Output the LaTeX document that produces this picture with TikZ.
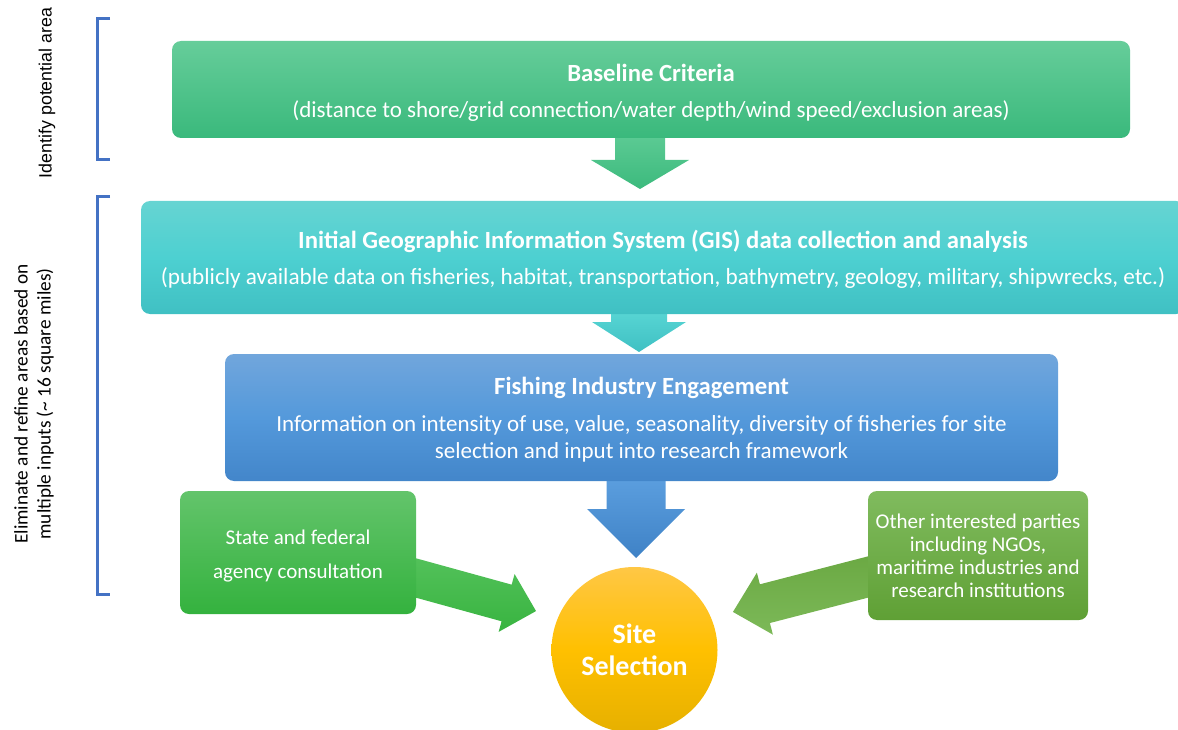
\documentclass[tikz,border=0pt]{standalone}
\usepackage{fontspec}
\setmainfont{Carlito}
\newfontfamily\labelfont{Liberation Sans}
\usetikzlibrary{calc}

\definecolor{bracketblue}{HTML}{4472C4}
\definecolor{baseTop}{HTML}{66CD9A}
\definecolor{baseBot}{HTML}{3AB97C}
\definecolor{gisTop}{HTML}{66D4D2}
\definecolor{gisMid}{HTML}{4DD0D1}
\definecolor{gisBot}{HTML}{40C0C3}
\definecolor{fishTop}{HTML}{71A6DC}
\definecolor{fishMid}{HTML}{5499DB}
\definecolor{fishBot}{HTML}{4386CA}
\definecolor{agTop}{HTML}{63C46B}
\definecolor{agBot}{HTML}{34B23E}
\definecolor{otTop}{HTML}{80BB5E}
\definecolor{otBot}{HTML}{5FA035}
\definecolor{siteTop}{HTML}{FFC745}
\definecolor{siteMid}{HTML}{FFC000}
\definecolor{siteBot}{HTML}{E6B000}
\definecolor{arOneTop}{HTML}{5FCC96}
\definecolor{arOneBot}{HTML}{3CBA7D}
\definecolor{arTwoTop}{HTML}{5BD8D6}
\definecolor{arTwoBot}{HTML}{3FC0C3}
\definecolor{arThreeTop}{HTML}{5DA0E0}
\definecolor{arThreeBot}{HTML}{3F82C6}
\definecolor{arAgTop}{HTML}{55C25C}
\definecolor{arAgBot}{HTML}{38B440}
\definecolor{arOtTop}{HTML}{6AA842}
\definecolor{arOtBot}{HTML}{7CB958}

% downward block arrow hanging from a root point
\newcommand\downblock[5]{% #1 root, #2 shaft half-width, #3 head half-width, #4 head start, #5 tip
  ($(#1)+(-#2,-8)$) -- ($(#1)+(#2,-8)$) -- ($(#1)+(#2,#4)$) -- ($(#1)+(#3,#4)$)
  -- ($(#1)+(0,#5)$) -- ($(#1)+(-#3,#4)$) -- ($(#1)+(-#2,#4)$) -- cycle}
% straight block arrow along the local x axis
\newcommand\sideblock[5]{% #1 start, #2 head base, #3 tip, #4 shaft half-width, #5 head half-width
  (#1,-#4) -- (#2,-#4) -- (#2,-#5) -- (#3,0) -- (#2,#5) -- (#2,#4) -- (#1,#4) -- cycle}
% bold heading line of a box; #1 is the strut height that sets the top gap
\newcommand\boxtitle[2]{{\fontsize{24.7}{30}\selectfont\bfseries\rule{0pt}{#1}#2}}

\begin{document}
\begin{tikzpicture}[x=1pt,y=-1pt,
  box/.style={rounded corners=9pt, text=white, align=center, inner sep=0pt},
  bracket/.style={draw=bracketblue, line width=3pt},
  sidelabel/.style={rotate=90, align=center, inner sep=0pt, text=black}]
\useasboundingbox (0,0) rectangle (1178,730);

% arrow roots
\coordinate (a1) at (640,138);
\coordinate (a2) at (639,314);
\coordinate (a3) at (636,481);

% block arrows (behind the boxes)
\shade[top color=arOneTop, bottom color=arOneBot] \downblock{a1}{25}{49}{22}{51};
\shade[top color=arTwoTop, bottom color=arTwoBot] \downblock{a2}{28}{47}{8}{38};
\shade[top color=arThreeTop, bottom color=arThreeBot] \downblock{a3}{29.5}{49}{28}{77};

\begin{scope}[shift={(416,578)}, rotate=-15.4]
  \shade[top color=arAgTop, bottom color=arAgBot] \sideblock{-30}{94}{124.5}{19}{30};
\end{scope}
\begin{scope}[shift={(868,577)}, rotate=194.5]
  \shade[top color=arOtTop, bottom color=arOtBot] \sideblock{-30}{106.5}{139.5}{20}{32};
\end{scope}

% boxes
\node[box, minimum width=958pt, minimum height=97pt, font=\fontsize{23}{36}\selectfont,
      top color=baseTop, bottom color=baseBot] (base) at (651,89.5)
  {\boxtitle{23pt}{Baseline Criteria}\\
   (distance to shore/grid connection/water depth/wind speed/exclusion areas)};

\node[box, minimum width=1044pt, minimum height=113pt, font=\fontsize{23.2}{36}\selectfont,
      top color=gisTop, bottom color=gisBot, middle color=gisMid] (gis) at (663,257.5)
  {\boxtitle{21.5pt}{Initial Geographic Information System (GIS) data collection and analysis}\\
   (publicly available data on fisheries, habitat, transportation, bathymetry, geology, military, shipwrecks, etc.)};

\node[box, minimum width=833pt, minimum height=127pt, font=\fontsize{23}{27}\selectfont,
      top color=fishTop, bottom color=fishBot, middle color=fishMid] (fish) at (641.5,417.5)
  {\boxtitle{22.5pt}{Fishing Industry Engagement}\\[10pt]
   Information on intensity of use, value, seasonality, diversity of fisheries for site\\
   selection and input into research framework};

\node[box, minimum width=236pt, minimum height=123pt, font=\fontsize{21}{34}\selectfont,
      top color=agTop, bottom color=agBot] (agency) at (298,552.5)
  {\rule{0pt}{21.5pt}State and federal\\ agency consultation};

\node[box, minimum width=220pt, minimum height=129pt, font=\fontsize{21}{23}\selectfont,
      top color=otTop, bottom color=otBot] (other) at (978,555.5)
  {Other interested parties\\ including NGOs,\\ maritime industries and\\ research institutions};

\node[circle, minimum size=166pt, inner sep=0pt, text=white, align=center,
      font=\fontsize{28}{32}\selectfont\bfseries,
      top color=siteTop, bottom color=siteBot, middle color=siteMid] (site) at (634.5,650)
  {Site\\ Selection};

% brackets and side labels
\coordinate (b1t) at (110,19);
\coordinate (b1b) at (110,160);
\coordinate (b2t) at (110,197);
\coordinate (b2b) at (110,594);
\draw[bracket] (b1t) -- ++(-13,0) |- (b1b);
\draw[bracket] (b2t) -- ++(-13,0) |- (b2b);

\node[sidelabel, font=\labelfont\fontsize{17.8}{22}\selectfont] (lab1) at (47,93) {Identify potential area};
\node[sidelabel, font=\fontsize{19.3}{23}\selectfont] (lab2) at (34,404)
  {Eliminate and refine areas based on\\ multiple inputs (\textasciitilde\ 16 square miles)};
\end{tikzpicture}
\end{document}
